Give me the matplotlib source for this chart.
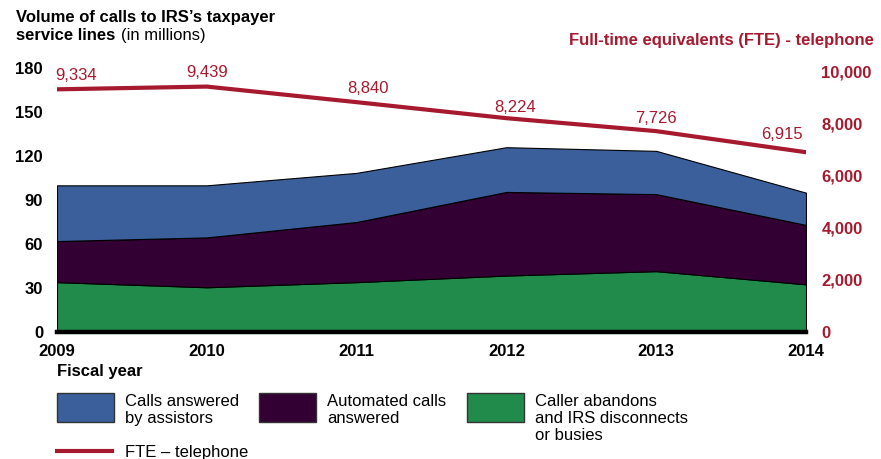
import matplotlib
matplotlib.use('Agg')
import matplotlib.pyplot as plt
from matplotlib.patches import Rectangle
from matplotlib.lines import Line2D

plt.rcParams['font.family'] = ['Liberation Sans', 'DejaVu Sans']

# data (millions of calls)
years      = [2009, 2010, 2011, 2012, 2013, 2014]
abandons   = [34.0, 30.5, 34.0, 38.5, 41.5, 32.5]
automated  = [28.0, 34.0, 41.0, 57.0, 52.5, 40.5]
assistors  = [38.0, 35.5, 33.5, 30.5, 29.5, 22.0]
fte        = [9334, 9439, 8840, 8224, 7726, 6915]

# label nudges in points (x, y)
lbl_off = [(14, 10), (0, 10), (8, 10), (6, 8), (0, 9), (-17, 13)]

BLUE   = '#3a5f9b'
PURPLE = '#330033'
GREEN  = '#218b4c'
RED    = '#a6192e'

fig = plt.figure(figsize=(8.81, 4.59), dpi=100)
W, H = 881, 459
ax = fig.add_axes([57/W, 1-332/H, (806-57)/W, 264/H])

c1 = abandons
c2 = [a+b for a, b in zip(abandons, automated)]
c3 = [a+b for a, b in zip(c2, assistors)]
ax.fill_between(years, 0, c1, facecolor=GREEN, edgecolor='black', lw=0.8)
ax.fill_between(years, c1, c2, facecolor=PURPLE, edgecolor='black', lw=0.8)
ax.fill_between(years, c2, c3, facecolor=BLUE, edgecolor='black', lw=0.8)

ax.set_xlim(2009, 2014)
ax.set_ylim(0, 180)
ax.set_yticks(range(0, 181, 30))
ax.set_xticks(years)
ax.tick_params(length=0)
ax.tick_params(axis='y', pad=10, labelsize=12)
ax.tick_params(axis='x', pad=9, labelsize=12)
for t in ax.get_xticklabels() + ax.get_yticklabels():
    t.set_fontweight('bold')
for s in ['top', 'left', 'right']:
    ax.spines[s].set_visible(False)
ax.spines['bottom'].set_linewidth(3.2)
ax.spines['bottom'].set_color('black')

ax2 = ax.twinx()
ax2.plot(years, fte, color=RED, lw=3, solid_capstyle='round')
ax2.set_ylim(0, 10000*264/260)
ax2.set_yticks(range(0, 10001, 2000))
ax2.set_yticklabels([f'{v:,}' for v in range(0, 10001, 2000)],
                    color=RED, fontweight='bold', fontsize=12)
ax2.tick_params(length=0, pad=11)
for s in ['top', 'left', 'right', 'bottom']:
    ax2.spines[s].set_visible(False)
for x, v, (dx, dy) in zip(years, fte, lbl_off):
    ax2.annotate(f'{v:,}', (x, v), xytext=(dx, dy), textcoords='offset points',
                 ha='center', va='center', color=RED, fontsize=12)

# titles
fig.text(16/W, 1-21.7/H, 'Volume of calls to IRS\u2019s taxpayer',
         fontsize=12, fontweight='bold', va='baseline')
fig.text(16/W, 1-40/H, 'service lines', fontsize=12, fontweight='bold',
         va='baseline')
fig.text(121/W, 1-40/H, '(in millions)', fontsize=12, va='baseline')
fig.text(874/W, 1-45/H, 'Full-time equivalents (FTE) - telephone',
         fontsize=12, fontweight='bold', color=RED, ha='right', va='baseline')
fig.text(57/W, 1-376/H, 'Fiscal year', fontsize=12, fontweight='bold',
         va='baseline')

# legend
leg = [(57, BLUE, 'Calls answered\nby assistors'),
       (259, PURPLE, 'Automated calls\nanswered'),
       (467, GREEN, 'Caller abandons\nand IRS disconnects\nor busies')]
for x0, col, txt in leg:
    fig.add_artist(Rectangle((x0/W, 1-421.7/H), 57/W, 28.7/H,
                             transform=fig.transFigure, facecolor=col,
                             edgecolor='#333333', lw=1))
    fig.text((x0+68)/W, 1-394/H, txt, fontsize=12, va='top',
             linespacing=1.17)
fig.add_artist(Line2D([57/W, 112/W], [1-450.7/H]*2, color=RED, lw=3,
                      transform=fig.transFigure))
fig.text(125/W, 1-457/H, 'FTE \u2013 telephone', fontsize=12, va='baseline')

fig.savefig('out.png', dpi=100)
